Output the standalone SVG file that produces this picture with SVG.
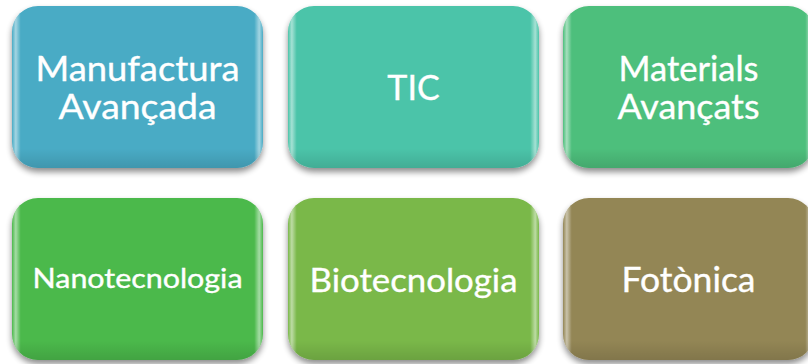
<svg xmlns="http://www.w3.org/2000/svg" width="808" height="364" viewBox="0 0 808 364">
<defs>
<filter id="sh" x="-10%" y="-10%" width="120%" height="125%">
<feGaussianBlur in="SourceAlpha" stdDeviation="3"/>
<feOffset dx="0" dy="4" result="b"/>
<feComponentTransfer><feFuncA type="linear" slope="0.45"/></feComponentTransfer>
<feMerge><feMergeNode/><feMergeNode in="SourceGraphic"/></feMerge>
</filter>
<linearGradient id="gloss" x1="0" y1="0" x2="1" y2="0">
<stop offset="0" stop-color="#fff" stop-opacity="0"/>
<stop offset="0.015" stop-color="#fff" stop-opacity="0.5"/>
<stop offset="0.035" stop-color="#fff" stop-opacity="0"/>
<stop offset="0.965" stop-color="#fff" stop-opacity="0"/>
<stop offset="0.985" stop-color="#fff" stop-opacity="0.5"/>
<stop offset="1" stop-color="#fff" stop-opacity="0"/>
</linearGradient>
<linearGradient id="shade" x1="0" y1="0" x2="0" y2="1">
<stop offset="0.88" stop-color="#000" stop-opacity="0"/>
<stop offset="1" stop-color="#000" stop-opacity="0.12"/>
</linearGradient>
</defs>
<style>
.box{filter:url(#sh)}
.gl{fill:url(#gloss)}
.sd{fill:url(#shade)}
text{font-family:"Lato","Open Sans","Liberation Sans",sans-serif;fill:#fff;stroke:#fff;stroke-width:0.35;text-anchor:middle}
.big{font-size:34px}
</style>
<rect width="808" height="364" fill="#fff"/>
<g id="n1">
<rect class="box" x="12" y="6" width="251" height="162" rx="26" fill="#4aabc5"/>
<rect class="gl" x="12" y="6" width="251" height="162" rx="26"/>
<rect class="sd" x="12" y="6" width="251" height="162" rx="26"/>
<text class="big" x="137.5" y="81" textLength="204" lengthAdjust="spacingAndGlyphs">Manufactura</text>
<text class="big" x="137.5" y="119" textLength="158" lengthAdjust="spacingAndGlyphs">Avançada</text>
</g>
<g id="n2">
<rect class="box" x="288" y="6" width="251" height="162" rx="26" fill="#4cc4a9"/>
<rect class="gl" x="288" y="6" width="251" height="162" rx="26"/>
<rect class="sd" x="288" y="6" width="251" height="162" rx="26"/>
<text class="big" x="413.5" y="100">TIC</text>
</g>
<g id="n3">
<rect class="box" x="563" y="6" width="251" height="162" rx="26" fill="#4dbf7b"/>
<rect class="gl" x="563" y="6" width="251" height="162" rx="26"/>
<rect class="sd" x="563" y="6" width="251" height="162" rx="26"/>
<text class="big" x="688.5" y="81" textLength="140" lengthAdjust="spacingAndGlyphs">Materials</text>
<text class="big" x="688.5" y="119" textLength="142" lengthAdjust="spacingAndGlyphs">Avançats</text>
</g>
<g id="n4">
<rect class="box" x="12" y="198" width="251" height="162" rx="26" fill="#4cb94c"/>
<rect class="gl" x="12" y="198" width="251" height="162" rx="26"/>
<rect class="sd" x="12" y="198" width="251" height="162" rx="26"/>
<text x="137.5" y="288" font-size="26" textLength="210" lengthAdjust="spacingAndGlyphs">Nanotecnologia</text>
</g>
<g id="n5">
<rect class="box" x="288" y="198" width="251" height="162" rx="26" fill="#7ab84a"/>
<rect class="gl" x="288" y="198" width="251" height="162" rx="26"/>
<rect class="sd" x="288" y="198" width="251" height="162" rx="26"/>
<text x="413.5" y="292" font-size="33" textLength="208" lengthAdjust="spacingAndGlyphs">Biotecnologia</text>
</g>
<g id="n6">
<rect class="box" x="563" y="198" width="251" height="162" rx="26" fill="#938655"/>
<rect class="gl" x="563" y="198" width="251" height="162" rx="26"/>
<rect class="sd" x="563" y="198" width="251" height="162" rx="26"/>
<text class="big" x="688.5" y="292" textLength="134" lengthAdjust="spacingAndGlyphs">Fotònica</text>
</g>
<g id="connectors"/>
</svg>
